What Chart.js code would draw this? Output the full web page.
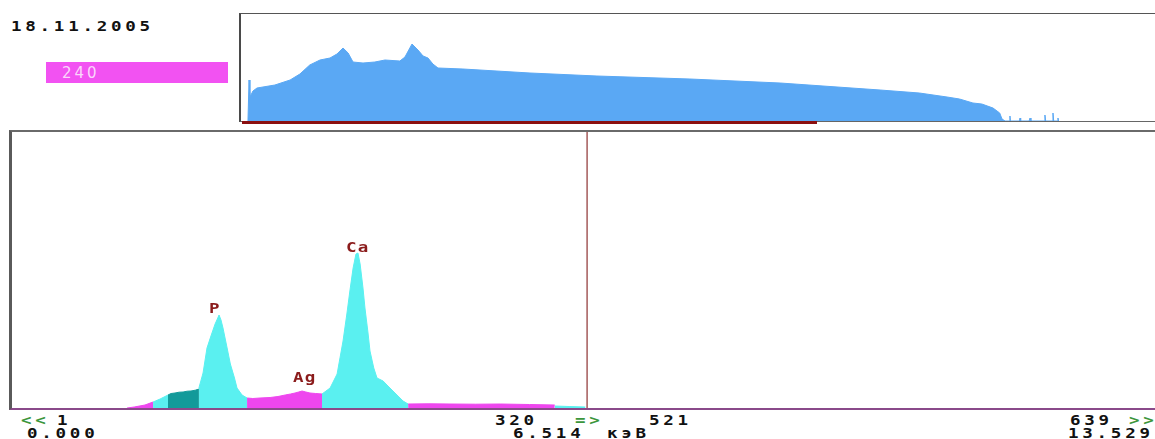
<!DOCTYPE html>
<html lang="ru">
<head>
  <meta charset="UTF-8" />
  <title>Спектр 18.11.2005</title>
  <script src="https://cdn.jsdelivr.net/npm/chart.js"></script>
  <style>
    body { margin: 0; background: #fff; width: 1155px; height: 439px; position: relative; overflow: hidden; }
    .t { position: absolute; font-family: "DejaVu Sans Mono", monospace; font-weight: bold; font-size: 14px; line-height: 14px;
         letter-spacing: 3px; color: #111; white-space: nowrap; transform: scaleX(1.25); transform-origin: 0 0; }
    .g { color: #3c963c; }
    .el { color: #8b1c1c; letter-spacing: 1px; }
    #mbox { position: absolute; left: 46px; top: 62px; width: 182px; height: 21px; background: #f252f2; }
    #mbox span { position: absolute; left: 16px; top: 2px; font-family: "DejaVu Sans", sans-serif; font-size: 15px; letter-spacing: 3px; color: #fbd6fb; }
    #ovBox { position: absolute; left: 239px; top: 13px; width: 915px; height: 107px;
      border-left: 2px solid #4a4a4a; border-top: 1px solid #555; border-bottom: 1px solid #666; border-right: 1px solid #ddd; }
    #ovBar { position: absolute; left: 242px; top: 121px; width: 575px; height: 3px; background: #8b1010; }
    #mainBox { position: absolute; left: 9px; top: 130px; width: 1146px; height: 276px;
      border-left: 3px solid #5a5a5a; border-top: 2px solid #6a6a6a; border-bottom: 2px solid #8a4a8a; }
    canvas { position: absolute; }
  </style>
</head>
<body>
  <div class="t" style="left:11px; top:19px;">18.11.2005</div>
  <div id="mbox"><span>240</span></div>

  <div id="ovBox"></div>
  <canvas id="overview" width="914" height="107" style="left:241px; top:14px;"></canvas>
  <div id="ovBar"></div>

  <div id="mainBox"></div>
  <canvas id="spectrum" width="1143" height="276" style="left:12px; top:132px;"></canvas>

  <!-- метки элементов -->
  <div class="t el" style="left:209px; top:301px;">P</div>
  <div class="t el" style="left:293px; top:370px;">Ag</div>
  <div class="t el" style="left:346px; top:240px;">Ca</div>

  <!-- нижняя строка -->
  <div class="t g" style="left:21px; top:413px;">&lt;&lt;</div>
  <div class="t" style="left:57px; top:413px;">1</div>
  <div class="t" style="left:27px; top:426px;">0.000</div>
  <div class="t" style="left:495px; top:413px;">320</div>
  <div class="t g" style="left:575px; top:413px;">=&gt;</div>
  <div class="t" style="left:649px; top:413px;">521</div>
  <div class="t" style="left:513px; top:426px;">6.514</div>
  <div class="t" style="left:607px; top:426px;">кэВ</div>
  <div class="t" style="left:1070px; top:413px;">639</div>
  <div class="t g" style="left:1129px; top:413px;">&gt;&gt;</div>
  <div class="t" style="left:1068px; top:426px;">13.529</div>

  <script>
    // основной спектр: [канал, счёт], по участкам окраски
    const magLeft  = [[64,0],[68,10],[74,30],[78.5,60]];
    const cyanLeft = [[78.5,60],[82.4,90],[86.8,130]];
    const tealBand = [[86.8,130],[88.5,145],[90.7,150],[93,158],[95.2,160],[97.5,168],[99.6,170],[102,178],[104,190]];
    const peakP    = [[104,200],[106.3,350],[108.5,600],[110.7,720],[113,840],[114.5,900],[115.2,930],[116.3,880],
                      [117.4,800],[119.7,600],[121.5,440],[123.8,300],[125.2,200],[128,130],[130.8,100]];
    const bandAg   = [[130.8,100],[134,95],[138,100],[143.6,105],[148,115],[152,130],[155,140],[157.5,150],
                      [159.5,160],[161.4,170],[163.5,160],[165.8,150],[169,145],[172.5,140]];
    const peakCa   = [[172.5,140],[177,200],[180.9,340],[184.2,670],[186.4,950],[188,1170],[189.8,1400],[191.4,1540],
                      [192.5,1550],[193.7,1440],[195.3,1200],[196.4,1000],[198.1,750],[199.2,570],[201.3,400],
                      [203.1,300],[206.5,270],[209.2,220],[212,170],[214.8,120],[217.6,70],[220.4,40]];
    const magTail  = [[220.4,40],[232,42],[243.7,40],[258,38],[271.6,40],[288,35],[302,30]];
    const cyanTail = [[302,20],[310,15],[319,10]];
    const cursorCh = 320;
    const countMax = 2760;
    const chMax = 636;

    // обзорный спектр (весь диапазон, 1024 канала)
    const overviewPts = [[7.8,0],[9,41],[10,24],[13.4,30],[17.9,33],[38,36],[55,41],[66,47],[77,56],[88.5,61],
      [99.7,63],[107.5,67],[114.3,73],[120,68],[125.5,59],[136.7,58],[150,59],[161.3,61],[178,60],[183.7,64],
      [191.6,77],[198.3,71],[204,65],[209.5,63],[215,57],[220.7,53],[248.7,52],[323.8,48],[398.8,45],[503,42],
      [604,38],[716,31],[760,28],[791,24],[805,22],[820,18],[830,17],[842.5,13],[850,8],[852.6,2],[856,0],
      [861,0],[861.5,5],[862,0],[872,0],[872.8,3],[873.5,0],[883,0],[884,3],[885,0],[900,0],[900.7,6],[901.5,0],
      [909,0],[909.7,8],[910.5,0],[915,0],[915.3,3],[916,0]];
    const overviewMax = 107;

    const MAGENTA = '#ee46ee';
    const CYAN = '#5af0f0';
    const TEAL = '#139a9a';

    const xy = arr => arr.map(p => ({ x: p[0], y: p[1] }));

    function area(pts, color) {
      return { data: xy(pts), borderColor: color, backgroundColor: color, borderWidth: 1,
               fill: 'origin', pointRadius: 0, tension: 0 };
    }

    const noAxes = (xmax, ymax) => ({
      x: { type: 'linear', min: 0, max: xmax, display: false },
      y: { min: 0, max: ymax, display: false }
    });

    const baseOpts = {
      responsive: false, animation: false,
      layout: { padding: 0 },
      plugins: { legend: { display: false }, tooltip: { enabled: false } },
      elements: { line: { borderJoinStyle: 'round' } }
    };

    new Chart(document.getElementById('spectrum'), {
      type: 'line',
      data: {
        datasets: [
          area(magLeft, MAGENTA), area(cyanLeft, CYAN), area(tealBand, TEAL), area(peakP, CYAN),
          area(bandAg, MAGENTA), area(peakCa, CYAN), area(magTail, MAGENTA), area(cyanTail, CYAN),
          { data: [{ x: cursorCh, y: 0 }, { x: cursorCh, y: countMax }], borderColor: '#a45a5a',
            borderWidth: 1.5, fill: false, pointRadius: 0 }
        ]
      },
      options: { ...baseOpts, scales: noAxes(chMax, countMax) }
    });

    new Chart(document.getElementById('overview'), {
      type: 'line',
      data: { datasets: [area(overviewPts, '#5aa8f4')] },
      options: { ...baseOpts, scales: noAxes(1024, overviewMax) }
    });
  </script>
</body>
</html>
